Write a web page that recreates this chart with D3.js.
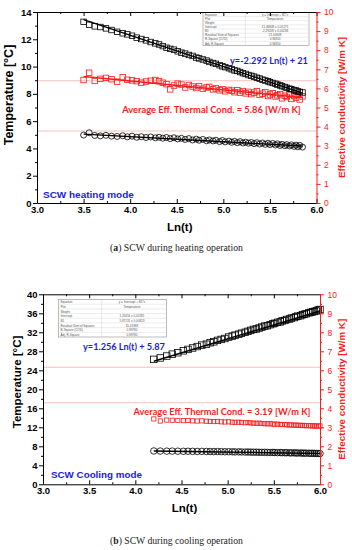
<!DOCTYPE html>
<html>
<head>
<meta charset="utf-8">
<style>
  body { margin: 0; background: #fff; }
  svg { display: block; }
</style>
</head>
<body>
<div id="chart"></div>
<script src="https://d3js.org/d3.v7.min.js"></script>
<script>
// ---------- shared ticks ----------
var xTicks = [3.0, 3.5, 4.0, 4.5, 5.0, 5.5, 6.0];
var xMinor = [3.25, 3.75, 4.25, 4.75, 5.25, 5.75];
var condTicks = [0, 1, 2, 3, 4, 5, 6, 7, 8, 9, 10];
var condMinor = [0.5, 1.5, 2.5, 3.5, 4.5, 5.5, 6.5, 7.5, 8.5, 9.5];

// ---------- (a) heating ----------
var heatLnT = [3.50, 3.56, 3.62, 3.68, 3.74, 3.80, 3.86, 3.92, 3.97, 4.02,
  4.07, 4.12, 4.17, 4.22, 4.27, 4.31, 4.35, 4.39, 4.43, 4.47,
  4.51, 4.55, 4.59, 4.63, 4.67, 4.71, 4.74, 4.78, 4.82, 4.85,
  4.89, 4.92, 4.96, 4.99, 5.02, 5.06, 5.09, 5.12, 5.15, 5.18,
  5.21, 5.24, 5.27, 5.30, 5.33, 5.36, 5.39, 5.42, 5.45, 5.48,
  5.50, 5.53, 5.56, 5.58, 5.61, 5.63, 5.66, 5.68, 5.71, 5.73,
  5.76, 5.78, 5.80, 5.82, 5.85];
var heatTemp = [13.28, 13.06, 12.95, 12.90, 12.80, 12.68, 12.55, 12.44, 12.36, 12.26,
  12.12, 12.02, 11.92, 11.80, 11.70, 11.62, 11.50, 11.38, 11.30, 11.24,
  11.12, 11.02, 10.95, 10.85, 10.78, 10.66, 10.60, 10.52, 10.44, 10.34,
  10.26, 10.20, 10.10, 10.02, 9.96, 9.88, 9.80, 9.72, 9.68, 9.60,
  9.52, 9.46, 9.38, 9.32, 9.26, 9.18, 9.12, 9.04, 8.98, 8.92,
  8.86, 8.80, 8.74, 8.68, 8.62, 8.56, 8.50, 8.44, 8.38, 8.34,
  8.28, 8.24, 8.18, 8.14, 8.10];
var heatCond = [6.44, 6.82, 6.39, 6.50, 6.55, 6.48, 6.35, 6.58, 6.45, 6.42,
  6.38, 6.30, 6.36, 6.40, 6.44, 6.38, 6.30, 6.22, 5.95, 6.15,
  6.25, 6.20, 6.05, 6.18, 6.10, 6.02, 6.12, 5.98, 6.05, 6.08,
  5.95, 6.00, 5.90, 5.96, 5.85, 5.92, 5.88, 5.80, 5.90, 5.78,
  5.86, 5.74, 5.82, 5.70, 5.78, 5.85, 5.66, 5.72, 5.80, 5.60,
  5.68, 5.75, 5.58, 5.64, 5.70, 5.48, 5.62, 5.55, 5.68, 5.45,
  5.60, 5.52, 5.66, 5.42, 5.58];
var heatTempLow = [4.98, 5.15, 4.95, 4.92, 4.96, 4.90, 4.88, 4.93, 4.85, 4.90,
  4.82, 4.86, 4.80, 4.84, 4.78, 4.82, 4.75, 4.80, 4.72, 4.78,
  4.70, 4.74, 4.66, 4.72, 4.62, 4.68, 4.60, 4.66, 4.56, 4.62,
  4.55, 4.60, 4.50, 4.58, 4.48, 4.54, 4.45, 4.52, 4.42, 4.50,
  4.40, 4.46, 4.38, 4.44, 4.35, 4.42, 4.32, 4.40, 4.30, 4.38,
  4.28, 4.36, 4.25, 4.34, 4.22, 4.30, 4.20, 4.28, 4.18, 4.26,
  4.15, 4.24, 4.12, 4.22, 4.10];
var heatFitTemp = [21.468, -2.292];   // intercept, slope
var heatFitCond = [8.27, -0.47];
var heatFitLow = [6.34, -0.37];
var heatRefLines = [6.40, 3.77];
var heatYTicks = [0, 2, 4, 6, 8, 10, 12, 14];
var heatYMinor = [1, 3, 5, 7, 9, 11, 13];
var heatTable = [
  ["Equation", "y = Intercept + B1*x"], ["Plot", "Temperature"], ["Weight", ""],
  ["Intercept", "21.46848 \u00b1 0.01271"], ["B1", "-2.29208 \u00b1 0.00238"],
  ["Residual Sum of Squares", "21.00948"], ["R-Square (COD)", "0.96850"], ["Adj. R-Square", "0.96850"]];

// ---------- (b) cooling ----------
var coolLnT = [4.20, 4.27, 4.34, 4.40, 4.46, 4.52, 4.57, 4.62, 4.67, 4.72,
  4.77, 4.81, 4.85, 4.89, 4.93, 4.97, 5.01, 5.05, 5.08, 5.12,
  5.15, 5.19, 5.22, 5.25, 5.28, 5.31, 5.34, 5.37, 5.40, 5.43,
  5.46, 5.49, 5.51, 5.54, 5.57, 5.59, 5.62, 5.64, 5.67, 5.69,
  5.72, 5.74, 5.76, 5.79, 5.81, 5.83, 5.85, 5.88, 5.90, 5.92,
  5.94, 5.96, 5.98, 6.00];
var coolTemp = [26.3, 26.6, 27.0, 27.4, 27.7, 28.1, 28.4, 28.7, 29.0, 29.3,
  29.5, 29.8, 30.0, 30.3, 30.5, 30.7, 31.0, 31.2, 31.4, 31.6,
  31.8, 32.0, 32.2, 32.4, 32.6, 32.7, 32.9, 33.1, 33.3, 33.4,
  33.6, 33.8, 33.9, 34.1, 34.2, 34.4, 34.5, 34.7, 34.8, 35.0,
  35.1, 35.3, 35.4, 35.5, 35.7, 35.8, 35.9, 36.1, 36.2, 36.3,
  36.4, 36.5, 36.7, 36.8];
var coolCond = [3.44, 3.33, 3.38, 3.37, 3.36, 3.35, 3.36, 3.34, 3.33, 3.34,
  3.32, 3.31, 3.30, 3.31, 3.29, 3.28, 3.29, 3.27, 3.26, 3.27,
  3.25, 3.24, 3.25, 3.23, 3.22, 3.21, 3.22, 3.20, 3.19, 3.18,
  3.19, 3.17, 3.16, 3.17, 3.15, 3.14, 3.15, 3.13, 3.12, 3.13,
  3.11, 3.12, 3.10, 3.11, 3.09, 3.10, 3.08, 3.09, 3.08, 3.07,
  3.08, 3.06, 3.07, 3.07];
var coolTempLow = [7.02, 7.00, 6.98, 6.99, 6.97, 6.95, 6.96, 6.94, 6.92, 6.93,
  6.91, 6.90, 6.88, 6.89, 6.87, 6.85, 6.86, 6.84, 6.82, 6.83,
  6.81, 6.79, 6.80, 6.78, 6.76, 6.77, 6.75, 6.73, 6.74, 6.72,
  6.70, 6.71, 6.69, 6.67, 6.68, 6.66, 6.64, 6.65, 6.63, 6.61,
  6.62, 6.60, 6.58, 6.59, 6.57, 6.55, 6.56, 6.54, 6.52, 6.53,
  6.51, 6.50, 6.49, 6.48];
var coolFitTemp = [1.256, 5.871];
var coolFitLow = [8.167, -0.278];
var coolRefLines = [6.16, 4.29];
var coolYTicks = [0, 4, 8, 12, 16, 20, 24, 28, 32, 36, 40];
var coolYMinor = [2, 6, 10, 14, 18, 22, 26, 30, 34, 38];
var coolTable = [
  ["Equation", "y = Intercept + B1*x"], ["Plot", "Temperature"], ["Weight", ""],
  ["Intercept", "1.25616 \u00b1 0.02281"], ["B1", "5.87131 \u00b1 0.00823"],
  ["Residual Sum of Squares", "31.41988"], ["R-Square (COD)", "0.99780"], ["Adj. R-Square", "0.99780"]];

var RED = "#ff1a1a", BLUE = "#1a1ae6";
var SANS = "'Liberation Sans', Arial, sans-serif";
var CAL = "Lato, 'Open Sans', sans-serif";
var SERIF = "'Liberation Serif', 'Times New Roman', serif";

var svg = d3.select("#chart").append("svg").attr("width", 352).attr("height", 550);
svg.append("rect").attr("width", 352).attr("height", 550).attr("fill", "#fff");

// shrink/grow a text's font so it spans the wanted width
function fitWidth(t, w) {
  var fs = parseFloat(t.attr("font-size"));
  var len = t.node().getComputedTextLength();
  if (len > 0) t.attr("font-size", fs * w / len);
}

function drawTable(g, rows, b) {
  var rh = b.h / rows.length;
  g.append("rect").attr("x", b.x).attr("y", b.y).attr("width", b.w).attr("height", b.h)
    .attr("fill", "#fff").attr("stroke", "#8c8c8c").attr("stroke-width", 0.6);
  rows.forEach(function (r, i) {
    if (i > 0) g.append("line").attr("x1", b.x).attr("x2", b.x + b.w)
      .attr("y1", b.y + i * rh).attr("y2", b.y + i * rh)
      .attr("stroke", "#d0d0d0").attr("stroke-width", 0.4);
    g.append("text").attr("x", b.x + 2).attr("y", b.y + i * rh + rh * 0.78)
      .attr("font-family", SANS).attr("font-size", 3).attr("fill", "#555").text(r[0]);
    g.append("text").attr("x", b.x + b.w * 0.68).attr("y", b.y + i * rh + rh * 0.78)
      .attr("text-anchor", "middle")
      .attr("font-family", SANS).attr("font-size", 3).attr("fill", "#555").text(r[1]);
  });
  g.append("line").attr("x1", b.x + b.w * 0.4).attr("x2", b.x + b.w * 0.4)
    .attr("y1", b.y).attr("y2", b.y + b.h).attr("stroke", "#d0d0d0").attr("stroke-width", 0.4);
}

function drawPanel(p) {
  var x = d3.scaleLinear().domain([3, 6]).range([p.left, p.right]);
  var y = d3.scaleLinear().domain([0, p.yMax]).range([p.bottom, p.top]);
  var y2 = d3.scaleLinear().domain([0, 10]).range([p.bottom, p.top]);
  var g = svg.append("g");

  g.selectAll(".ref").data(p.refLines).enter().append("line")
    .attr("x1", p.left).attr("x2", p.right)
    .attr("y1", function (d) { return y2(d); }).attr("y2", function (d) { return y2(d); })
    .attr("stroke", "#f5a3a3").attr("stroke-width", 0.7);

  drawTable(g, p.table, p.tableBox);

  p.series.forEach(function (s) {
    var sy = s.axis === "right" ? y2 : y;
    var pts = p.xs.map(function (d, i) { return [d, s.values[i]]; });
    var mg = g.append("g");
    if (s.shape === "square") {
      mg.selectAll("rect").data(pts).enter().append("rect")
        .attr("x", function (d) { return x(d[0]) - s.size / 2; })
        .attr("y", function (d) { return sy(d[1]) - s.size / 2; })
        .attr("width", s.size).attr("height", s.size)
        .attr("fill", "none").attr("stroke", s.color).attr("stroke-width", 0.8);
    } else {
      mg.selectAll("circle").data(pts).enter().append("circle")
        .attr("cx", function (d) { return x(d[0]); })
        .attr("cy", function (d) { return sy(d[1]); })
        .attr("r", s.size / 2)
        .attr("fill", "none").attr("stroke", s.color).attr("stroke-width", 0.8);
    }
    if (s.fit) {
      var xr = [p.xs[0], p.xs[p.xs.length - 1]];
      g.append("path").datum(xr)
        .attr("d", d3.line().x(function (d) { return x(d); })
          .y(function (d) { return sy(s.fit[0] + s.fit[1] * d); }))
        .attr("fill", "none").attr("stroke", s.color).attr("stroke-width", 1.4);
    }
  });

  // annotations
  var eq = g.append("text").attr("x", p.eq.x).attr("y", p.eq.y)
    .attr("font-family", CAL).attr("font-weight", "bold").attr("font-size", 10)
    .attr("fill", BLUE).text(p.eq.text);
  fitWidth(eq, p.eq.w);
  var avg = g.append("text").attr("x", p.avg.x).attr("y", p.avg.y).attr("text-anchor", "middle")
    .attr("font-family", CAL).attr("font-weight", "bold").attr("font-size", 10)
    .attr("fill", RED).text(p.avg.text);
  fitWidth(avg, p.avg.w);
  var mode = g.append("text").attr("x", p.mode.x).attr("y", p.mode.y)
    .attr("font-family", SANS).attr("font-weight", "bold").attr("font-size", 10)
    .attr("fill", BLUE).text(p.mode.text);
  fitWidth(mode, 91);

  // axes
  function style(ax, color, weight, size) {
    ax.selectAll("path,line").attr("stroke", color).attr("stroke-width", 1);
    ax.selectAll("text").attr("fill", color).attr("font-family", SANS)
      .attr("font-weight", weight).attr("font-size", size);
  }
  var ax;
  ax = g.append("g").attr("transform", "translate(0," + p.top + ")")
    .call(d3.axisTop(x).tickValues(xTicks).tickSize(-4).tickSizeOuter(0).tickFormat(""));
  style(ax, "#000", "bold", 9);
  g.append("g").attr("transform", "translate(0," + p.top + ")")
    .call(d3.axisTop(x).tickValues(xMinor).tickSize(-2).tickFormat(""))
    .call(function (a) { a.select(".domain").remove(); a.selectAll("line").attr("stroke", "#000"); });

  ax = g.append("g").attr("transform", "translate(0," + p.bottom + ")")
    .call(d3.axisBottom(x).tickValues(xTicks).tickSize(-4).tickSizeOuter(0).tickPadding(3)
      .tickFormat(d3.format(".1f")));
  style(ax, "#000", "bold", 9.5);
  g.append("g").attr("transform", "translate(0," + p.bottom + ")")
    .call(d3.axisBottom(x).tickValues(xMinor).tickSize(-2).tickFormat(""))
    .call(function (a) { a.select(".domain").remove(); a.selectAll("line").attr("stroke", "#000"); });

  ax = g.append("g").attr("transform", "translate(" + p.left + ",0)")
    .call(d3.axisLeft(y).tickValues(p.yTicks).tickSize(4).tickSizeOuter(0).tickPadding(1.5));
  style(ax, "#000", "bold", 9.5);
  g.append("g").attr("transform", "translate(" + p.left + ",0)")
    .call(d3.axisLeft(y).tickValues(p.yMinor).tickSize(2).tickFormat(""))
    .call(function (a) { a.select(".domain").remove(); a.selectAll("line").attr("stroke", "#000"); });

  ax = g.append("g").attr("transform", "translate(" + p.right + ",0)")
    .call(d3.axisRight(y2).tickValues(condTicks).tickSize(4).tickSizeOuter(0).tickPadding(3.5));
  style(ax, RED, "normal", 8.5);
  g.append("g").attr("transform", "translate(" + p.right + ",0)")
    .call(d3.axisRight(y2).tickValues(condMinor).tickSize(2).tickFormat(""))
    .call(function (a) { a.select(".domain").remove(); a.selectAll("line").attr("stroke", RED); });

  // titles
  g.append("text").attr("x", (p.left + p.right) / 2 + 3).attr("y", p.xTitleY)
    .attr("text-anchor", "middle").attr("font-family", SANS).attr("font-weight", "bold")
    .attr("font-size", 11.5).text("Ln(t)");
  g.append("text").attr("transform", "translate(" + p.yTitle.x + "," + p.yTitle.y + ") rotate(-90)")
    .attr("text-anchor", "middle").attr("font-family", SANS).attr("font-weight", "bold")
    .attr("font-size", p.yTitle.size).text("Temperature [\u00b0C]");
  g.append("text").attr("transform", "translate(345," + (p.top + p.bottom) / 2 + ") rotate(-90)")
    .attr("text-anchor", "middle").attr("font-family", SANS).attr("font-weight", "bold")
    .attr("font-size", 9.8).attr("fill", RED).text("Effective conductivity [W/m K]");

  var cap = g.append("text").attr("x", 176.5).attr("y", p.capY).attr("text-anchor", "middle")
    .attr("font-family", SERIF).attr("font-size", 9).attr("fill", "#222");
  cap.append("tspan").text("(");
  cap.append("tspan").attr("font-weight", "bold").text(p.capLetter);
  cap.append("tspan").text(") " + p.capText);
  fitWidth(cap, 133);
}

drawPanel({
  left: 37, right: 316.5, top: 12, bottom: 203, yMax: 14,
  yTicks: heatYTicks, yMinor: heatYMinor, xs: heatLnT,
  refLines: heatRefLines, table: heatTable,
  tableBox: { x: 203, y: 12.5, w: 106, h: 33 },
  series: [
    { values: heatTempLow, shape: "circle", size: 6, color: "#000", axis: "left", fit: heatFitLow },
    { values: heatCond, shape: "square", size: 5.5, color: RED, axis: "right", fit: heatFitCond },
    { values: heatTemp, shape: "square", size: 5.5, color: "#000", axis: "left", fit: heatFitTemp }
  ],
  eq: { x: 230, y: 63.5, w: 78, text: "y=-2.292 Ln(t) + 21" },
  avg: { x: 211.5, y: 112.5, w: 179, text: "Average Eff. Thermal Cond. = 5.86 [W/m K]" },
  mode: { x: 43, y: 197.5, text: "SCW heating mode" },
  xTitleY: 231, yTitle: { x: 12.5, y: 95, size: 12.5 },
  capY: 251, capLetter: "a", capText: "SCW during heating operation"
});

drawPanel({
  left: 43, right: 320, top: 294.3, bottom: 484.3, yMax: 40,
  yTicks: coolYTicks, yMinor: coolYMinor, xs: coolLnT,
  refLines: coolRefLines, table: coolTable,
  tableBox: { x: 58.5, y: 299.5, w: 108, h: 37.5 },
  series: [
    { values: coolTempLow, shape: "circle", size: 6.5, color: "#000", axis: "left", fit: coolFitLow },
    { values: coolCond, shape: "square", size: 4.2, color: RED, axis: "right" },
    { values: coolTemp, shape: "square", size: 6.5, color: "#000", axis: "left", fit: coolFitTemp }
  ],
  eq: { x: 83, y: 349.5, w: 82, text: "y=1.256 Ln(t) + 5.87" },
  avg: { x: 222, y: 414.5, w: 177, text: "Average Eff. Thermal Cond. = 3.19 [W/m K]" },
  mode: { x: 51, y: 477.5, text: "SCW Cooling mode" },
  xTitleY: 512, yTitle: { x: 20.5, y: 382, size: 11.5 },
  capY: 544, capLetter: "b", capText: "SCW during cooling operation"
});
</script>
</body>
</html>
